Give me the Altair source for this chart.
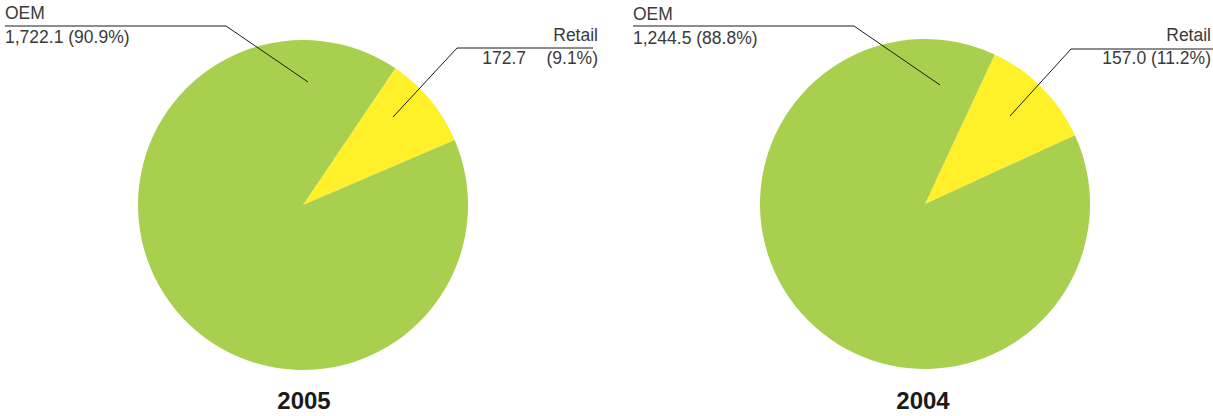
import math
import altair as alt
import pandas as pd

# ---- data ----
segments = ["Retail", "OEM"]
values_2005 = [172.7, 1722.1]
values_2004 = [157.0, 1244.5]
years = ["2005", "2004"]
oem_labels = ["1,722.1 (90.9%)", "1,244.5 (88.8%)"]
retail_value_labels = ["172.7", "157.0 (11.2%)"]
retail_pct_labels = ["(9.1%)", ""]

# ---- styles ----
colors = ["#FFF02A", "#A8CF4E"]
FONT = "Liberation Sans"
TEXT_COLOR = "#3a3a3a"


def pie(vals, cx, cy, start_deg):
    df = pd.DataFrame({"segment": segments, "value": vals, "idx": [0, 1]})
    start = math.radians(start_deg)
    return alt.Chart(df).mark_arc(radius=165).encode(
        theta=alt.Theta("value:Q", stack=True,
                        scale=alt.Scale(range=[start, start + 2 * math.pi])),
        color=alt.Color("segment:N", scale=alt.Scale(domain=segments, range=colors), legend=None),
        order=alt.Order("idx:Q"),
        x=alt.value(cx),
        y=alt.value(cy),
    )


pie_2005 = pie(values_2005, 303, 205, 34)
pie_2004 = pie(values_2004, 925, 204, 25)

# leader lines (annotation geometry, pixel space)
lines = pd.DataFrame({
    "id": ["a"] * 3 + ["b"] * 3 + ["c"] * 3 + ["d"] * 3,
    "ord": [0, 1, 2] * 4,
    "x": [5, 226, 308, 593, 457, 393, 633, 854, 940, 1213, 1071, 1010],
    "y": [26, 26, 82, 48, 48, 117, 26, 26, 85, 49, 49, 116],
})
line_layer = alt.Chart(lines).mark_line(color="#1a1a1a", strokeWidth=1).encode(
    x=alt.X("x:Q", scale=None, axis=None),
    y=alt.Y("y:Q", scale=None, axis=None),
    detail="id:N",
    order="ord:Q",
)

left_text = pd.DataFrame({
    "t": ["OEM", oem_labels[0], "OEM", oem_labels[1]],
    "x": [5, 5, 633, 633],
    "y": [19, 43, 20, 44],
})
right_text = pd.DataFrame({
    "t": ["Retail", retail_value_labels[0], retail_pct_labels[0], "Retail", retail_value_labels[1]],
    "x": [598, 526, 598, 1211, 1211],
    "y": [41, 64, 64, 41, 64],
})
titles = pd.DataFrame({"t": years, "x": [304, 923], "y": [409, 409]})


def text_layer(df, align, size=17.5, weight="normal", color=TEXT_COLOR):
    return alt.Chart(df).mark_text(
        align=align, baseline="alphabetic", font=FONT, fontSize=size,
        fontWeight=weight, color=color,
    ).encode(
        x=alt.X("x:Q", scale=None, axis=None),
        y=alt.Y("y:Q", scale=None, axis=None),
        text="t:N",
    )


chart = alt.layer(
    pie_2005,
    pie_2004,
    line_layer,
    text_layer(left_text, "left"),
    text_layer(right_text, "right"),
    text_layer(titles, "center", size=24, weight="bold", color="#1a1a1a"),
).resolve_scale(theta="independent").properties(
    width=1213, height=416, padding=0, autosize=alt.AutoSizeParams(type="none")
).configure_view(stroke=None)

chart.save("out.html", embed_options={"renderer": "svg", "actions": False})
